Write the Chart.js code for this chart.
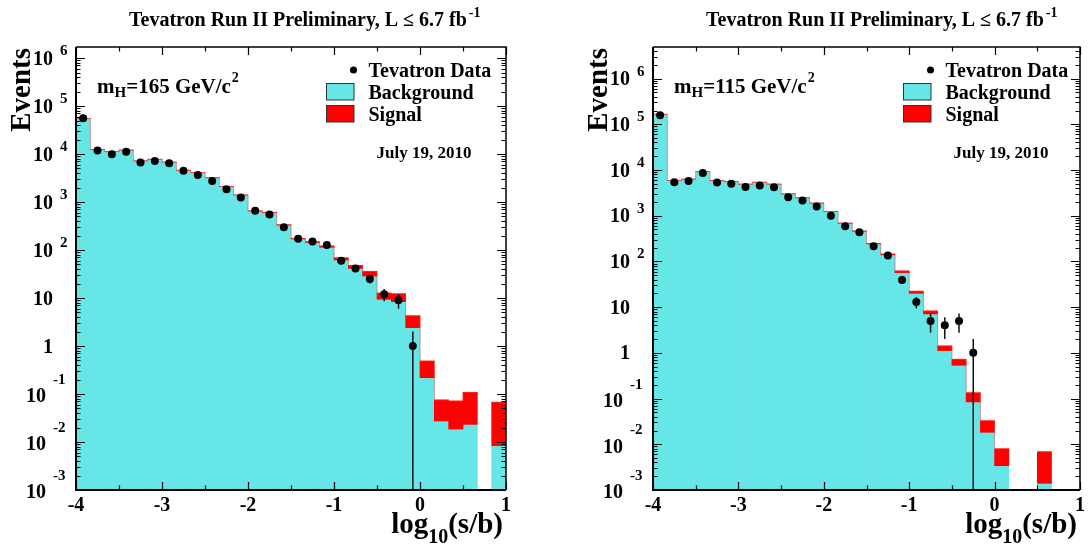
<!DOCTYPE html>
<html><head><meta charset="utf-8">
<script src="https://cdn.jsdelivr.net/npm/chart.js@4.4.1/dist/chart.umd.min.js"></script>
<style>
html,body{margin:0;padding:0;background:#fff;}
#wrap{position:relative;width:1089px;height:544px;overflow:hidden;background:#fff;}
.pane{position:absolute;top:0;height:544px;}
</style></head><body>
<div id="wrap">
<div class="pane" style="left:0;width:545px"><canvas id="c1" width="545" height="544"></canvas></div>
<div class="pane" style="left:545px;width:544px"><canvas id="c2" width="544" height="544"></canvas></div>
</div>
<script>
// ---------- data ----------
const binCenters = [-47/12,-45/12,-43/12,-41/12,-39/12,-37/12,-35/12,-33/12,-31/12,-29/12,
  -27/12,-25/12,-23/12,-21/12,-19/12,-17/12,-15/12,-13/12,-11/12,-9/12,
  -7/12,-5/12,-3/12,-1/12,1/12,3/12,5/12,7/12,9/12,11/12];
const xTicks = [-4,-3,-2,-1,0,1];
const yDecades = [-3,-2,-1,0,1,2,3,4,5,6];

const bg165 = [55000,12500,11200,12100,7200,7800,6800,4600,4100,3200,
  2100,1400,650,600,330,170,144,114,62,41.5,
  28.7,9.4,8.4,2.41,0.219,0.0274,0.0186,0.0233,0,0.0084];
const sig165 = [7,2,2.5,4,3.5,5,6.5,6.5,8,9,
  9,9,6,9,7,5,6,8,7,6.5,
  7.3,3.3,3.9,1.88,0.268,0.048,0.053,0.085,0,0.059];
const data165 = [56000,11800,9900,11200,6700,7200,6400,4500,3650,2750,
  1840,1250,660,553,297,172,151,127,60,41,
  25,12,9,1,0,0,0,0,0,0];

const bg115 = [166000,5860,6300,9200,5860,5570,4900,5400,4900,3000,
  2450,1880,1230,680,457,241,139,56.9,20.1,7.1,
  1.12,0.535,0.0844,0.0183,0.0034,0,0,0.0014,0,0];
const sig115 = [20,1,1.5,3,3,4,5,7,9,8,
  9,10,9,9,9,7,6,5.1,2.2,1.16,
  0.30,0.19,0.050,0.0145,0.0046,0,0,0.0055,0,0];
const data115 = [158000,5400,5770,8600,5300,5030,4270,4570,4200,2540,
  2140,1580,1000,589,435,215,134,39,13,5,
  4,5,1,0,0,0,0,0,0,0];

const titleText = 'Tevatron Run II Preliminary, L \u2264 6.7 fb';
const titleSup = '-1';
const legendLabels = ['Tevatron Data','Background','Signal'];
const dateText = 'July 19, 2010';
const yTitle = 'Events';

// ---------- style ----------
const SERIF = '"Liberation Serif","Times New Roman",serif';
const CYAN = '#66e6e6';
const RED = '#ff0000';

function font(size){ return 'bold ' + size + 'px ' + SERIF; }

function buildDatasets(bg, sig, dat){
  const half = (binCenters[1]-binCenters[0])/2;
  const bgD = [], sigD = [], ptD = [], outline = [];
  bg.forEach((b,i)=>{
    if (b > 0) {
      bgD.push({x: binCenters[i], y: [1e-5, b]});
      if (sig[i] > 0) sigD.push({x: binCenters[i], y: [b, b + sig[i]]});
      const tot = b + sig[i];
      outline.push({x: binCenters[i]-half, y: tot});
      if (i === bg.length-1 || !(bg[i+1] > 0)) {
        outline.push({x: binCenters[i]+half, y: tot});
        outline.push({x: binCenters[i]+half, y: null});
      }
    }
    if (dat[i] > 0) ptD.push({x: binCenters[i], y: dat[i]});
  });
  return [
    {type:'scatter', label: legendLabels[0], data: ptD, order:1,
      pointRadius:4, pointHoverRadius:4, pointBackgroundColor:'#000', pointBorderColor:'#000', pointBorderWidth:0},
    {type:'line', label:'outline', data: outline, order:2, stepped:'before', spanGaps:false,
      borderColor:'rgba(255,70,70,0.5)', borderWidth:1, pointRadius:0, fill:false},
    {type:'bar', label: legendLabels[2], data: sigD, order:3, grouped:false,
      backgroundColor: RED, borderWidth:0, barPercentage:1, categoryPercentage:1},
    {type:'bar', label: legendLabels[1], data: bgD, order:4, grouped:false,
      backgroundColor: CYAN, borderWidth:0, barPercentage:1, categoryPercentage:1}
  ];
}

function overlayPlugin(panel){
  return {
    id: 'overlay',
    afterDatasetsDraw(chart){
      const ctx = chart.ctx, a = chart.chartArea;
      const xs = chart.scales.x, ys = chart.scales.y;
      ctx.save();
      // error bars
      ctx.strokeStyle = '#111'; ctx.lineWidth = 1.5;
      panel.dat.forEach((n,i)=>{
        if (!(n > 0)) return;
        const e = Math.sqrt(n);
        const x = xs.getPixelForValue(binCenters[i]);
        const lo = (n - e) > ys.min ? ys.getPixelForValue(n - e) : a.bottom;
        const hi = Math.max(a.top, ys.getPixelForValue(n + e));
        ctx.beginPath(); ctx.moveTo(x, lo); ctx.lineTo(x, hi); ctx.stroke();
      });
      // frame
      ctx.strokeStyle = '#000'; ctx.lineWidth = 2;
      ctx.beginPath();
      ctx.moveTo(a.left, a.top); ctx.lineTo(a.left, a.bottom); ctx.lineTo(a.right, a.bottom);
      ctx.stroke();
      ctx.lineWidth = 1.5;
      ctx.beginPath();
      ctx.moveTo(a.left, a.top); ctx.lineTo(a.right, a.top); ctx.lineTo(a.right, a.bottom);
      ctx.stroke();
      // x ticks (inward, bottom & top)
      ctx.lineWidth = 1.2;
      ctx.strokeStyle = '#000';
      const xt = [];
      for (let k = 0; k < xTicks.length; k++) {
        xt.push([xTicks[k], 8]);
        if (k < xTicks.length-1) xt.push([(xTicks[k]+xTicks[k+1])/2, 4.5]);
      }
      xt.forEach(([v,len])=>{
        const x = Math.round(xs.getPixelForValue(v)) + 0.5;
        ctx.beginPath();
        ctx.moveTo(x, a.bottom); ctx.lineTo(x, a.bottom - len);
        ctx.moveTo(x, a.top); ctx.lineTo(x, a.top + len);
        ctx.stroke();
      });
      // y ticks (log, inward, left & right)
      yDecades.forEach(d=>{
        for (let m = 1; m <= 9; m++) {
          const v = m * Math.pow(10, d);
          if (v < ys.min * 0.999 || v > ys.max) continue;
          const y = Math.round(ys.getPixelForValue(v)) + 0.5;
          const len = m === 1 ? 9 : 4.5;
          ctx.beginPath();
          ctx.moveTo(a.left, y); ctx.lineTo(a.left + len, y);
          ctx.moveTo(a.right, y); ctx.lineTo(a.right - len, y);
          ctx.stroke();
        }
      });
      // y tick labels with superscripts
      ctx.fillStyle = '#000';
      ctx.textBaseline = 'alphabetic'; ctx.textAlign = 'left';
      yDecades.forEach(d=>{
        const y = ys.getPixelForValue(Math.pow(10, d));
        if (d === 0) {
          ctx.font = font(20); ctx.fillText('1', a.left - 33, y + 6.6);
        } else if (d === 1) {
          ctx.font = font(20); ctx.fillText('10', a.left - 43, y + 6.6);
        } else if (d > 1) {
          ctx.font = font(20); ctx.fillText('10', a.left - 43, y + 6.6);
          ctx.font = font(15); ctx.fillText(String(d), a.left - 16, y - 8 + 5);
        } else {
          ctx.font = font(20); ctx.fillText('10', a.left - 50, y + 8.4);
          ctx.font = font(15); ctx.fillText(String(d), a.left - 23, y - 15 + 5);
        }
      });
      // y title
      ctx.save();
      ctx.translate(a.left - 46, a.top + 1);
      ctx.rotate(-Math.PI/2);
      ctx.font = font(29); ctx.textAlign = 'right';
      ctx.fillText(yTitle, 0, 0);
      ctx.restore();
      // x title: log10(s/b)
      ctx.textAlign = 'left';
      ctx.font = font(29);
      const w1 = ctx.measureText('log').width;
      const w3 = ctx.measureText('(s/b)').width;
      ctx.font = font(20);
      const w2 = ctx.measureText('10').width;
      let xx = a.right - 3 - (w1 + w2 + w3);
      ctx.font = font(29); ctx.fillText('log', xx, 533); xx += w1;
      ctx.font = font(20); ctx.fillText('10', xx, 542.5); xx += w2;
      ctx.font = font(29); ctx.fillText('(s/b)', xx, 533);
      // title
      ctx.font = font(20);
      const tx = a.left + 53;
      ctx.fillText(titleText, tx, 26);
      const tw = ctx.measureText(titleText).width;
      ctx.font = font(14);
      ctx.fillText(titleSup, tx + tw + 2, 16.7);
      // mass label
      let mx = a.left + 21;
      ctx.font = font(21); ctx.fillText('m', mx, 92.7); mx += ctx.measureText('m').width;
      ctx.font = font(15); ctx.fillText('H', mx, 96.7); mx += ctx.measureText('H').width;
      ctx.font = font(21); const mtxt = '=' + panel.mass + ' GeV/c';
      ctx.fillText(mtxt, mx, 92.7); mx += ctx.measureText(mtxt).width;
      ctx.font = font(14); ctx.fillText('2', mx + 1, 81.7);
      // legend
      const lx = a.left;
      ctx.beginPath(); ctx.arc(lx + 277.5, 70, 3.5, 0, Math.PI*2); ctx.fill();
      ctx.fillStyle = CYAN; ctx.fillRect(lx + 250, 83, 28, 17);
      ctx.fillStyle = RED; ctx.fillRect(lx + 250, 105, 28, 17);
      ctx.strokeStyle = '#333'; ctx.lineWidth = 1;
      ctx.strokeRect(lx + 250.5, 83.5, 27.5, 16.5);
      ctx.strokeRect(lx + 250.5, 105.5, 27.5, 16.5);
      ctx.fillStyle = '#000';
      ctx.font = font(20);
      ctx.fillText(legendLabels[0], lx + 292.5, 76.7);
      ctx.fillText(legendLabels[1], lx + 292.5, 99);
      ctx.fillText(legendLabels[2], lx + 292.5, 120.5);
      ctx.font = font(17);
      ctx.fillText(dateText, lx + 300.5, 158.3);
      ctx.restore();
    }
  };
}

function makeChart(id, panel){
  new Chart(document.getElementById(id), {
    data: { datasets: buildDatasets(panel.bg, panel.sig, panel.dat) },
    options: {
      responsive: false, animation: false, devicePixelRatio: 1,
      layout: { padding: { top: 47, right: panel.padRight, left: 0, bottom: 0 } },
      plugins: { legend: { display: false }, tooltip: { enabled: false }, title: { display: false } },
      events: [],
      scales: {
        x: {
          type: 'linear', min: xTicks[0], max: xTicks[xTicks.length-1], offset: false,
          grid: { display: false, drawTicks: false }, border: { display: false },
          ticks: { stepSize: 1, padding: 4, maxRotation: 0, autoSkip: false,
            color: '#000', font: { family: SERIF, size: 20, weight: 'bold' },
            callback: v => String(v) },
          afterFit: s => { s.height = 54; }
        },
        y: {
          type: 'logarithmic', min: 1e-3, max: panel.ymax,
          grid: { display: false, drawTicks: false }, border: { display: false },
          ticks: { display: false },
          afterFit: s => { s.width = panel.yWidth; }
        }
      }
    },
    plugins: [overlayPlugin(panel)]
  });
}

makeChart('c1', { bg: bg165, sig: sig165, dat: data165, mass: 165, ymax: 1.7e6, yWidth: 76, padRight: 39 });
makeChart('c2', { bg: bg115, sig: sig115, dat: data115, mass: 115, ymax: 4.9e6, yWidth: 108, padRight: 6 });
</script>
</body></html>
